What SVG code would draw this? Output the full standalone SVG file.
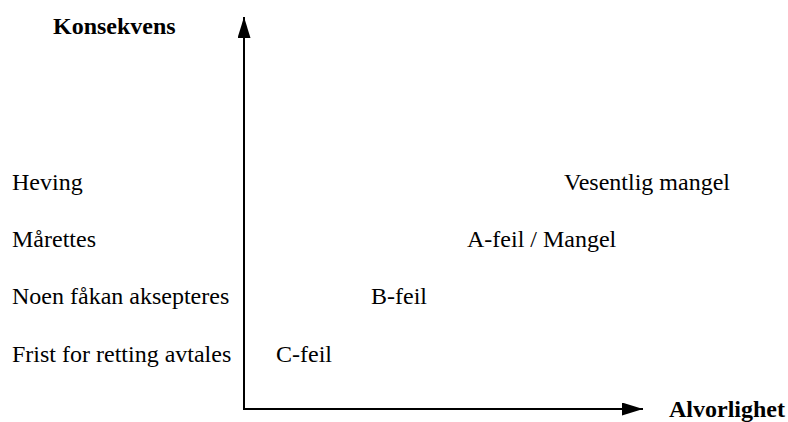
<svg xmlns="http://www.w3.org/2000/svg" width="788" height="422" viewBox="0 0 788 422">
  <style>
    .lbl { font-family: "Liberation Serif", "Times New Roman", serif; font-size: 24px; fill: #000; }
    .axis-title { font-family: "Liberation Serif", "Times New Roman", serif; font-size: 24px; font-weight: bold; fill: #000; }
    .axis { stroke: #000; stroke-width: 2; fill: none; }
  </style>
  <defs>
    <marker id="arrow" viewBox="0 0 21 13" refX="21" refY="6.5" markerWidth="21" markerHeight="13" markerUnits="userSpaceOnUse" orient="auto">
      <path d="M0,0 L21,6.5 L0,13 Z" fill="#000"/>
    </marker>
  </defs>
  <rect width="788" height="422" fill="#fff"/>

  <!-- axes -->
  <g id="connectors">
    <line class="axis" x1="244" y1="410" x2="244" y2="17" marker-end="url(#arrow)"/>
    <line class="axis" x1="243" y1="409" x2="643" y2="409" marker-end="url(#arrow)"/>
  </g>

  <g id="axis-y-title"><text class="axis-title" x="53" y="34">Konsekvens</text></g>
  <g id="axis-x-title"><text class="axis-title" x="669" y="417">Alvorlighet</text></g>

  <!-- consequence levels -->
  <g id="level-heving"><text class="lbl" x="12" y="190">Heving</text></g>
  <g id="level-marettes"><text class="lbl" x="12" y="247">Mårettes</text></g>
  <g id="level-noen"><text class="lbl" x="12" y="304">Noen fåkan aksepteres</text></g>
  <g id="level-frist"><text class="lbl" x="12" y="362">Frist for retting avtales</text></g>

  <!-- severity classes -->
  <g id="class-vesentlig"><text class="lbl" x="564" y="190">Vesentlig mangel</text></g>
  <g id="class-a"><text class="lbl" x="467" y="247">A-feil / Mangel</text></g>
  <g id="class-b"><text class="lbl" x="371" y="304">B-feil</text></g>
  <g id="class-c"><text class="lbl" x="276" y="362">C-feil</text></g>
</svg>
